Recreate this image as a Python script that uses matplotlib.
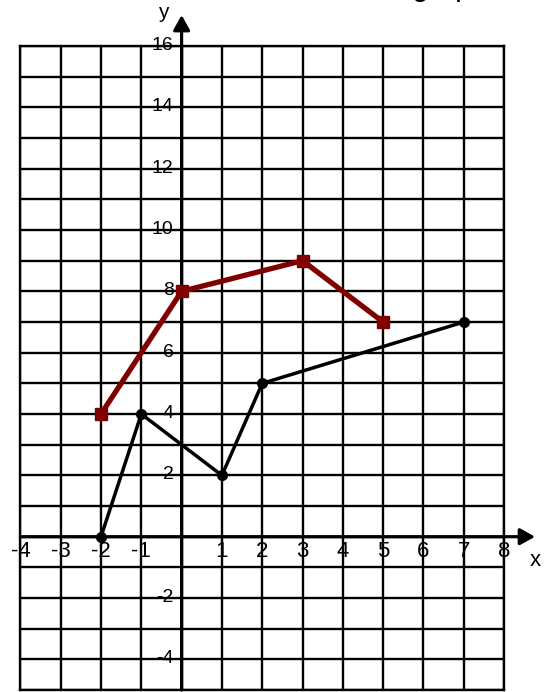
import matplotlib
matplotlib.use("Agg")
import matplotlib.pyplot as plt

plt.rcParams['font.family'] = ['Liberation Sans', 'DejaVu Sans']

# data
black_x = [-2, -1, 1, 2, 7]
black_y = [0, 4, 2, 5, 7]
red_x = [-2, 0, 3, 5]
red_y = [4, 8, 9, 7]

x_ticks = [-4, -3, -2, -1, 1, 2, 3, 4, 5, 6, 7, 8]
y_ticks = [-4, -2, 2, 4, 6, 8, 10, 12, 14, 16]

fig = plt.figure(figsize=(5.5, 6.92), dpi=100)
ax = fig.add_axes([0.0371, 0.00282, 0.8793, 0.9307])
ax.set_xlim(-4, 8)
ax.set_ylim(-5, 16)

# square grid
ax.set_xticks(range(-4, 9))
ax.set_yticks(range(-5, 17))
ax.tick_params(length=0, labelbottom=False, labelleft=False)
ax.grid(True, color='black', linewidth=1.7)
for s in ax.spines.values():
    s.set_linewidth(1.7)
    s.set_color('black')

# axes with arrows
ax.annotate('', xy=(8.77, 0), xytext=(-4, 0), annotation_clip=False,
            arrowprops=dict(arrowstyle='-|>,head_length=0.45,head_width=0.25',
                            mutation_scale=20, lw=2.3, color='black',
                            shrinkA=0, shrinkB=0))
ax.annotate('', xy=(0, 17.01), xytext=(0, -5), annotation_clip=False,
            arrowprops=dict(arrowstyle='-|>,head_length=0.45,head_width=0.25',
                            mutation_scale=20, lw=2.3, color='black',
                            shrinkA=0, shrinkB=0))

# tick labels
for v in x_ticks:
    ax.text(v, -0.48, str(v), ha='center', va='center', fontsize=16, clip_on=False)
for v in y_ticks:
    ax.text(-0.2, v + 0.02, str(v), ha='right', va='center', fontsize=14, clip_on=False)

ax.text(8.77, -0.76, 'x', ha='center', va='center', fontsize=16, clip_on=False)
ax.text(-0.46, 17.1, 'y', ha='center', va='center', fontsize=15, clip_on=False)

# series
ax.plot(black_x, black_y, color='black', lw=2.5, marker='o', markersize=7,
        zorder=5, clip_on=False)
ax.plot(red_x, red_y, color='#800000', lw=3.8, marker='s', markersize=8.5,
        zorder=6, clip_on=False)

# cut-off title at the top
fig.text(412 / 550, 1 + 4.5 / 692, 'graph', ha='left', va='baseline', fontsize=22)

fig.savefig('out.png', dpi=100)
